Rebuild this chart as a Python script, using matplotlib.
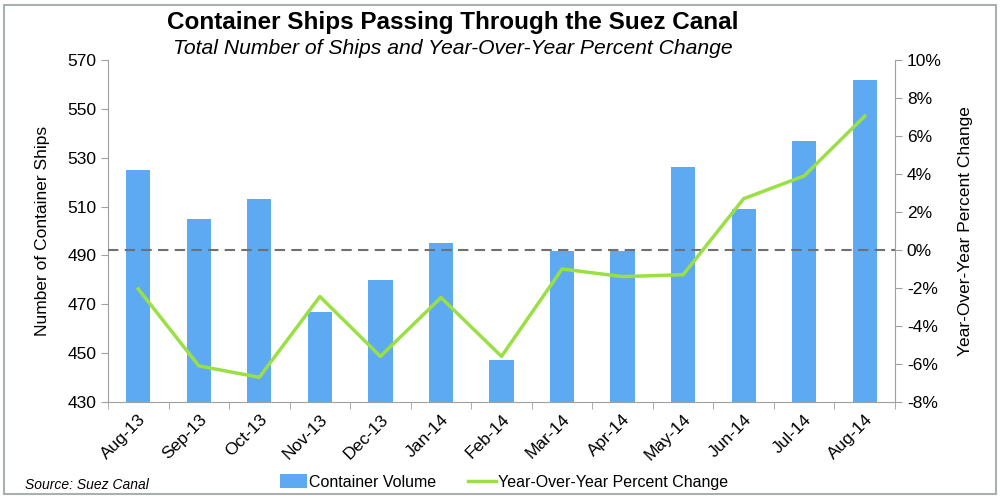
import numpy as np
import matplotlib.pyplot as plt
from matplotlib.patches import Rectangle
from matplotlib.ticker import FuncFormatter

plt.rcParams['font.family'] = ['Liberation Sans', 'DejaVu Sans']

months = ['Aug-13', 'Sep-13', 'Oct-13', 'Nov-13', 'Dec-13', 'Jan-14', 'Feb-14',
          'Mar-14', 'Apr-14', 'May-14', 'Jun-14', 'Jul-14', 'Aug-14']
volume = [525, 505, 513, 467, 480, 495, 447, 492, 492, 526, 509, 537, 562]
yoy_pct = [-2.05, -6.1, -6.7, -2.45, -5.6, -2.5, -5.6, -1.0, -1.4, -1.3, 2.7, 3.9, 7.05]

bar_color = '#5eaaf2'
line_color = '#9ae045'
spine_color = '#a0a0a0'

fig = plt.figure(figsize=(10, 5), dpi=100)
ax = fig.add_axes([0.108, 0.196, 0.787, 0.684])
ax2 = ax.twinx()

x = np.arange(len(months))
bars = ax.bar(x, volume, width=0.4, color=bar_color, label='Container Volume', zorder=2)
ax.set_ylim(430, 570)
ax.set_yticks(range(430, 571, 20))
ax.set_xlim(-0.5, len(months) - 0.5)
ax.set_xticks(x)
ax.set_xticklabels(months, rotation=45, ha='right', rotation_mode='anchor', fontsize=12.5)
ax.set_xticks(np.arange(-0.5, len(months), 1), minor=True)
ax.tick_params(axis='x', which='major', length=0, pad=7)
ax.tick_params(axis='x', which='minor', length=5, color=spine_color, direction='out')
ax.tick_params(axis='y', length=5, color=spine_color, labelsize=12.5)
ax.set_ylabel('Number of Container Ships', fontsize=12.5, labelpad=12)

line, = ax2.plot(x, yoy_pct, color=line_color, linewidth=2.5, label='Year-Over-Year Percent Change', zorder=3)
ax2.axhline(0, color='#707070', linestyle=(0, (5, 3)), linewidth=1.5, zorder=1)
ax2.set_ylim(-8, 10)
ax2.set_yticks(range(-8, 11, 2))
ax2.yaxis.set_major_formatter(FuncFormatter(lambda v, p: f'{int(v)}%'))
ax2.tick_params(axis='y', length=5, color=spine_color, labelsize=12.5)
ax2.set_ylabel('Year-Over-Year Percent Change', fontsize=12.5, labelpad=12)

for a in (ax, ax2):
    a.spines['top'].set_visible(False)
    for s in ('left', 'right', 'bottom'):
        a.spines[s].set_color(spine_color)
ax.spines['right'].set_visible(False)
ax2.spines['left'].set_visible(False)
ax2.spines['bottom'].set_visible(False)

fig.text(0.453, 0.955, 'Container Ships Passing Through the Suez Canal',
         ha='center', va='center', fontsize=17.5, fontweight='bold')
fig.text(0.453, 0.903, 'Total Number of Ships and Year-Over-Year Percent Change',
         ha='center', va='center', fontsize=15.2, style='italic')

fig.legend([bars, line], ['Container Volume', 'Year-Over-Year Percent Change'],
           loc='center', bbox_to_anchor=(0.504, 0.036), ncol=2, frameon=False,
           fontsize=11.5, handlelength=1.7, handleheight=0.9, columnspacing=2.0, handletextpad=0.15)
fig.text(0.025, 0.03, 'Source: Suez Canal', ha='left', va='center', fontsize=10, style='italic')

fig.patches.append(Rectangle((0.004, 0.012), 0.992, 0.978, transform=fig.transFigure,
                             fill=False, edgecolor='#a8b0b0', linewidth=1.5))

fig.savefig('out.png', dpi=100)
